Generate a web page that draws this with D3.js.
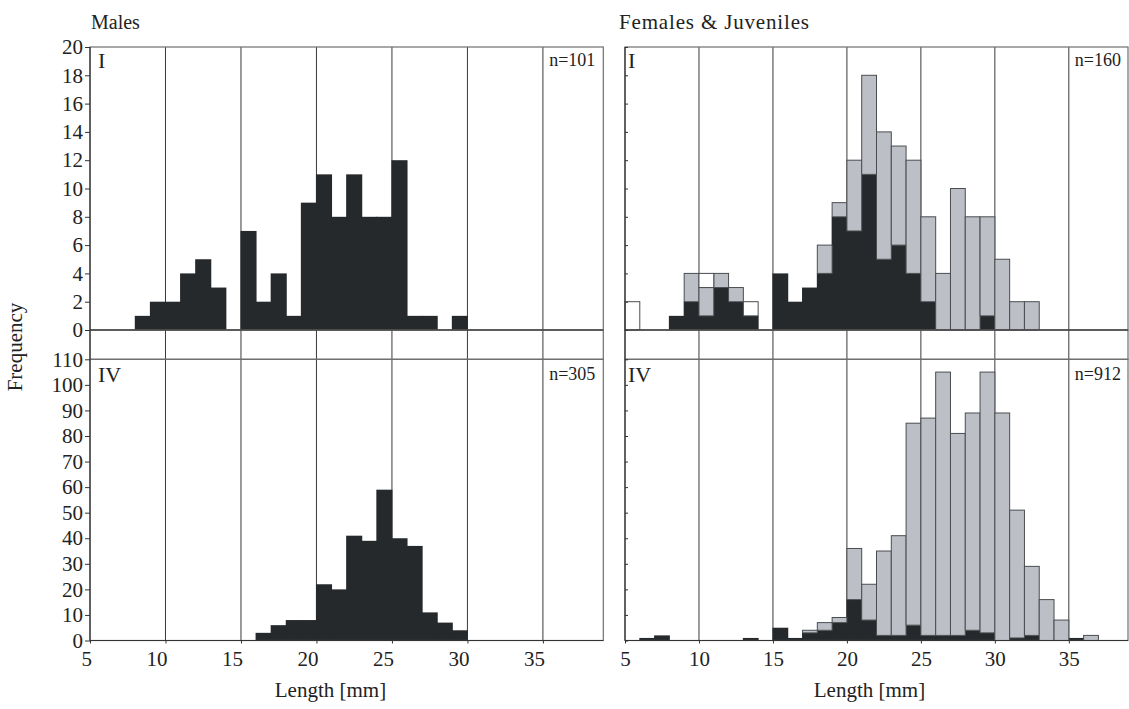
<!DOCTYPE html>
<html><head><meta charset="utf-8">
<script src="https://cdn.jsdelivr.net/npm/d3@7"></script>
<style>
body{margin:0;background:#fff}
text{font-family:"Liberation Serif","Times New Roman","DejaVu Serif",serif;fill:#222}
</style>
</head><body>
<svg id="c" width="1129" height="709"></svg>
<script>
// Bin left edges (1 mm bins)
const lengthBins = [5,6,7,8,9,10,11,12,13,14,15,16,17,18,19,20,21,22,23,24,25,26,27,28,29,30,31,32,33,34,35,36,37,38];
// Males, sample I
const malesI      = [0,0,0,1,2,2,4,5,3,0,7,2,4,1,9,11,8,11,8,8,12,1,1,0,1,0,0,0,0,0,0,0,0,0];
// Males, sample IV
const malesIV     = [0,0,0,0,0,0,0,0,0,0,0,3,6,8,8,22,20,41,39,59,40,37,11,7,4,0,0,0,0,0,0,0,0,0];
// Females & juveniles, sample I
const femalesI    = [0,0,0,1,2,1,3,2,1,0,4,2,3,4,8,7,11,5,6,4,2,0,0,0,1,0,0,0,0,0,0,0,0,0];
const juvenilesI  = [0,0,0,0,2,2,1,1,0,0,0,0,0,2,1,5,7,9,7,8,6,4,10,8,7,5,2,2,0,0,0,0,0,0];
const otherI      = [2,0,0,0,0,1,0,0,1,0,0,0,0,0,0,0,0,0,0,0,0,0,0,0,0,0,0,0,0,0,0,0,0,0];
// Females & juveniles, sample IV
const femalesIV   = [0,1,2,0,0,0,0,0,1,0,5,1,3,4,7,16,8,2,2,6,2,2,2,4,3,0,1,2,0,0,1,0,0,0];
const juvenilesIV = [0,0,0,0,0,0,0,0,0,0,0,0,1,3,2,20,14,33,39,79,85,103,79,85,102,89,50,27,16,8,0,2,0,0];
const otherIV     = [0,0,0,0,0,0,0,0,0,0,0,0,0,0,0,0,0,0,0,0,0,0,0,0,0,0,0,0,0,0,0,0,0,0];

const yTicksTop = [0,2,4,6,8,10,12,14,16,18,20];
const yTicksBottom = [0,10,20,30,40,50,60,70,80,90,100,110];
const xTicks = [5,10,15,20,25,30,35];
const gridLines = [10,15,20,25,30,35];

const COL = {black:"#25292b", gray:"#bcc0c6", white:"#ffffff"};
const FONT = '"Liberation Serif","Times New Roman","DejaVu Serif",serif';
const svg = d3.select("#c");

const TOP = {y0:47, y1:330};
const STRIP = {y0:330, y1:359.3};
const BOT = {y0:359.3, y1:640.5};

const panels = [
  {x0:90, x1:603.3, left:true, title:"Males", titleX:91, titleW:null,
   top:{series:{black:malesI}, n:"n=101", lab:"I"},
   bot:{series:{black:malesIV}, n:"n=305", lab:"IV"}, xlab:330.5, romanDx:8, nDx:8},
  {x0:625, x1:1128, left:false, title:"Females & Juveniles", titleX:619, titleW:190,
   top:{series:{black:femalesI, gray:juvenilesI, white:otherI}, n:"n=160", lab:"I"},
   bot:{series:{black:femalesIV, gray:juvenilesIV, white:otherIV}, n:"n=912", lab:"IV"}, xlab:869.5, romanDx:3, nDx:7}
];

function drawBars(g, x, y, series){
  const keys = Object.keys(series);
  const rows = lengthBins.map((b,i)=>{const r={bin:b}; keys.forEach(k=>r[k]=series[k][i]); return r;});
  const stack = d3.stack().keys(keys)(rows);
  stack.forEach(layer=>{
    const isBlack = layer.key==="black";
    g.append("g").selectAll("rect")
      .data(layer.filter(d=>d[1]-d[0]>0))
      .join("rect")
      .attr("x", d=>x(d.data.bin) - (isBlack?0.5:0))
      .attr("width", d=>x(d.data.bin+1)-x(d.data.bin) + (isBlack?1:0))
      .attr("y", d=>y(d[1]))
      .attr("height", d=>y(d[0])-y(d[1]))
      .attr("fill", COL[layer.key])
      .attr("stroke", isBlack ? "none" : "#4a4d50")
      .attr("stroke-width", 1);
  });
}

panels.forEach(p=>{
  const x = d3.scaleLinear().domain([5,39]).range([p.x0,p.x1]);
  const yT = d3.scaleLinear().domain([0,20]).range([TOP.y1,TOP.y0]);
  const yB = d3.scaleLinear().domain([0,110]).range([BOT.y1,BOT.y0]);
  const g = svg.append("g");

  // grid lines
  g.append("g").selectAll("line").data(gridLines).join("line")
    .attr("x1", d=>x(d)).attr("x2", d=>x(d))
    .attr("y1", TOP.y0).attr("y2", BOT.y1)
    .attr("stroke", "#3a3a3a").attr("stroke-width", 1);

  drawBars(g, x, yT, p.top.series);
  drawBars(g, x, yB, p.bot.series);

  // frames
  [[TOP.y0,TOP.y1],[STRIP.y0,STRIP.y1],[BOT.y0,BOT.y1]].forEach(([a,b])=>{
    g.append("rect").attr("x",p.x0).attr("y",a).attr("width",p.x1-p.x0).attr("height",b-a)
      .attr("fill","none").attr("stroke","#6e6e6e").attr("stroke-width",1.2);
  });
  g.append("line").attr("x1",p.x0).attr("x2",p.x0).attr("y1",TOP.y0).attr("y2",BOT.y1)
    .attr("stroke","#333").attr("stroke-width",1.2);
  [TOP.y1, BOT.y1].forEach(yy=>g.append("line").attr("x1",p.x0).attr("x2",p.x1).attr("y1",yy).attr("y2",yy)
    .attr("stroke","#333").attr("stroke-width",1.2));

  // y axes
  const axT = p.left ? d3.axisLeft(yT).tickValues(yTicksTop).tickSize(5).tickPadding(2)
                     : d3.axisRight(yT).tickValues(yTicksTop).tickSize(3).tickFormat("");
  const axB = p.left ? d3.axisLeft(yB).tickValues(yTicksBottom).tickSize(5).tickPadding(2)
                     : d3.axisRight(yB).tickValues(yTicksBottom).tickSize(3).tickFormat("");
  [axT, axB].forEach(ax=>{
    const a = g.append("g").attr("transform",`translate(${p.x0},0)`).call(ax);
    a.attr("font-family", FONT);
    a.select(".domain").remove();
    a.selectAll("line").attr("stroke","#333");
    a.selectAll("text").attr("font-size",21).attr("font-family",FONT).attr("fill","#222");
  });

  // x axis
  const xa = g.append("g").attr("transform",`translate(0,${BOT.y1})`)
    .call(d3.axisBottom(x).tickValues(xTicks).tickSize(3).tickPadding(8));
  xa.attr("font-family", FONT);
  xa.select(".domain").remove();
  xa.selectAll("line").attr("stroke","#333");
  xa.selectAll("text").attr("font-size",21).attr("font-family",FONT).attr("fill","#222");
  if (p.left) xa.selectAll("text").attr("text-anchor","end").attr("x",1.5);

  // labels
  const t = g.append("text").attr("x",p.titleX).attr("y",29).attr("font-size",p.titleW?21:20).text(p.title);
  if (p.titleW) t.attr("textLength",p.titleW).attr("lengthAdjust","spacing");
  g.append("text").attr("x",p.x0+p.romanDx).attr("y",TOP.y0+21).attr("font-size",22).text(p.top.lab);
  g.append("text").attr("x",p.x0+p.romanDx).attr("y",BOT.y0+23).attr("font-size",22).text(p.bot.lab);
  g.append("text").attr("x",p.x1-p.nDx).attr("y",TOP.y0+19).attr("font-size",18).attr("text-anchor","end").text(p.top.n);
  g.append("text").attr("x",p.x1-p.nDx).attr("y",BOT.y0+21).attr("font-size",18).attr("text-anchor","end").text(p.bot.n);
  g.append("text").attr("x",p.xlab).attr("y",697).attr("font-size",21).attr("text-anchor","middle").text("Length [mm]");
});

svg.append("text").attr("transform","translate(22,347) rotate(-90)")
  .attr("text-anchor","middle").attr("font-size",21).text("Frequency");
</script>
</body></html>
